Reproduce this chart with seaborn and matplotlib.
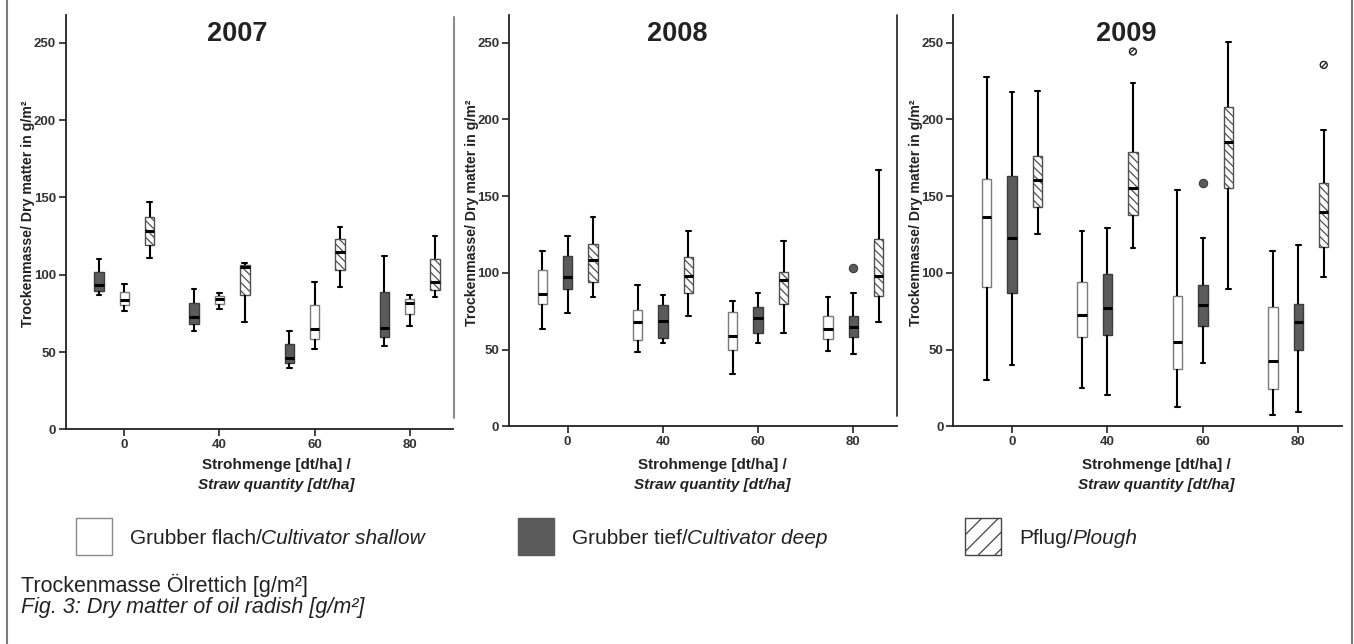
import numpy as np
import pandas as pd
import matplotlib
matplotlib.use("Agg")
import matplotlib.pyplot as plt
import seaborn as sns
from matplotlib import font_manager as fm
from matplotlib.patches import Rectangle
from matplotlib.lines import Line2D

# ---------------- data ----------------
years = ['2007', '2008', '2009']
straw = ['0', '40', '60', '80']
treatments = ['Grubber flach', 'Grubber tief', 'Pflug']

# five-number summaries per straw level: (lower whisker, Q1, median, Q3, upper whisker)
flach_2007 = [(76.7, 80.2, 83.6, 88.8, 93.8), (78.0, 81.2, 84.1, 86.2, 87.9),
              (51.9, 58.3, 65.0, 80.4, 95.3), (66.6, 74.3, 81.5, 84.5, 86.9)]
tief_2007 = [(86.6, 89.5, 93.1, 101.6, 110.2), (63.7, 68.1, 72.4, 81.7, 90.8),
             (39.8, 42.8, 46.0, 54.9, 63.7), (53.6, 59.4, 65.5, 88.8, 112.4)]
pflug_2007 = [(110.6, 119.3, 128.3, 137.4, 147.1), (69.1, 87.1, 105.0, 106.3, 107.8),
              (92.0, 103.3, 114.7, 122.9, 130.7), (85.4, 90.1, 95.1, 110.2, 124.9)]
flach_2008 = [(63.7, 79.7, 86.4, 101.6, 114.2), (48.3, 56.3, 68.0, 75.8, 92.3),
              (34.4, 49.4, 58.9, 74.5, 81.9), (49.2, 56.8, 63.3, 71.7, 84.5)]
tief_2008 = [(73.9, 89.5, 97.3, 110.9, 123.7), (54.6, 57.8, 68.7, 79.1, 85.6),
             (54.2, 60.9, 70.4, 77.8, 87.1), (47.2, 58.5, 65.0, 71.7, 87.1)]
pflug_2008 = [(84.5, 94.0, 108.5, 118.7, 136.7), (71.9, 86.9, 97.7, 110.3, 127.4),
              (61.1, 79.7, 95.1, 100.5, 120.7), (68.0, 84.7, 97.7, 122.0, 167.2)]
flach_2009 = [(30.1, 91.0, 136.5, 161.3, 227.5), (24.7, 58.0, 72.7, 93.9, 127.4),
              (12.3, 37.4, 54.7, 84.8, 154.2), (7.4, 24.0, 42.6, 77.6, 114.2)]
tief_2009 = [(40.2, 86.9, 122.4, 162.8, 218.0), (20.1, 59.5, 76.8, 99.0, 129.5),
             (41.3, 65.5, 78.9, 92.3, 122.4), (9.5, 50.0, 67.7, 79.4, 118.1)]
pflug_2009 = [(125.6, 143.2, 160.7, 175.8, 218.4), (115.9, 137.8, 155.1, 178.8, 223.6),
              (89.7, 155.5, 185.1, 208.0, 250.6), (97.1, 116.8, 139.7, 158.3, 193.3)]

# outliers
outlier_year = ['2008', '2009', '2009', '2009']
outlier_straw = ['80', '60', '40', '80']
outlier_treat = ['Grubber tief', 'Grubber tief', 'Pflug', 'Pflug']
outlier_value = [103.1, 158.5, 244.2, 235.5]

summaries = {
    ('2007', 'Grubber flach'): flach_2007, ('2007', 'Grubber tief'): tief_2007, ('2007', 'Pflug'): pflug_2007,
    ('2008', 'Grubber flach'): flach_2008, ('2008', 'Grubber tief'): tief_2008, ('2008', 'Pflug'): pflug_2008,
    ('2009', 'Grubber flach'): flach_2009, ('2009', 'Grubber tief'): tief_2009, ('2009', 'Pflug'): pflug_2009,
}

rows = []
for (yr, tr), boxes in summaries.items():
    for s, five in zip(straw, boxes):
        for v in five:
            rows.append({'year': yr, 'straw': s, 'treatment': tr, 'value': v})
df = pd.DataFrame(rows)
odf = pd.DataFrame({'year': outlier_year, 'straw': outlier_straw,
                    'treatment': outlier_treat, 'value': outlier_value})

# ---------------- style ----------------
sns.set_theme(style='ticks')
names = {f.name for f in fm.fontManager.ttflist}
narrow = 'Liberation Sans Narrow' if 'Liberation Sans Narrow' in names else 'Liberation Sans'
plt.rcParams['font.family'] = [narrow, 'DejaVu Sans']
plt.rcParams['hatch.linewidth'] = 0.9

palette = {'Grubber flach': '#ffffff', 'Grubber tief': '#5b5b5b', 'Pflug': '#ffffff'}
edges = {'Grubber flach': '#7a7a7a', 'Grubber tief': '#3c3c3c', 'Pflug': '#505050'}
hatches = {'Grubber flach': None, 'Grubber tief': None, 'Pflug': '\\\\\\\\'}

W, H = 1354, 644
fig = plt.figure(figsize=(W / 100, H / 100), dpi=100)
fig.patch.set_facecolor('white')

panel_px = {'2007': (65.7, 453.0, 15.0, 429.3),
            '2008': (509.0, 896.7, 15.0, 426.3),
            '2009': (953.3, 1341.7, 15.0, 426.3)}
title_x = {'2007': 0.444, '2008': 0.433, '2009': 0.445}
xlabel_cx = {'2007': 276, '2008': 712, '2009': 1156}

for yr in years:
    l, r, t, b = panel_px[yr]
    ax = fig.add_axes([l / W, 1 - b / H, (r - l) / W, (b - t) / H])
    hue_order = (['Grubber tief', 'Grubber flach', 'Pflug'] if yr == '2007'
                 else ['Grubber flach', 'Grubber tief', 'Pflug'])
    for tr in treatments:
        sub = df[(df.year == yr) & (df.treatment == tr)]
        n0 = len(ax.patches)
        sns.boxplot(data=sub, x='straw', y='value', hue='treatment', order=straw,
                    hue_order=hue_order, palette=palette, dodge=True, width=0.8,
                    gap=0.63, whis=(0, 100), saturation=1, showfliers=False,
                    linewidth=1.1, linecolor='black', legend=False, ax=ax,
                    medianprops=dict(color='black', linewidth=2.2),
                    whiskerprops=dict(color='black', linewidth=1.5),
                    capprops=dict(color='black', linewidth=1.5))
        for p in ax.patches[n0:]:
            p.set_edgecolor(edges[tr])
            p.set_linewidth(1.0)
            if hatches[tr]:
                p.set_hatch(hatches[tr])
        osub = odf[(odf.year == yr) & (odf.treatment == tr)]
        if len(osub):
            c0 = len(ax.collections)
            sns.stripplot(data=osub, x='straw', y='value', hue='treatment', order=straw,
                          hue_order=hue_order, palette=palette, dodge=True, jitter=False,
                          size=6 if tr == 'Grubber tief' else 5, legend=False, ax=ax)
            for c in ax.collections[c0:]:
                if tr == 'Grubber tief':
                    c.set_facecolor('#5b5b5b')
                    c.set_edgecolor('#3c3c3c')
                    c.set_linewidth(0.8)
                else:
                    c.set_facecolor('white')
                    c.set_edgecolor('#222222')
                    c.set_linewidth(1.0)
                    c.set_hatch('//////')
    ax.set_xlim(-0.616, 3.455)
    ax.set_ylim(0, 268)
    ax.set_yticks([0, 50, 100, 150, 200, 250])
    ax.set_xlabel('')
    ax.set_ylabel('Trockenmasse/ Dry matter in g/m²', fontsize=10.2, fontweight='bold',
                  color='#222222')
    ax.yaxis.set_label_coords(-0.078, 0.52)
    sns.despine(ax=ax)
    for sp in ['left', 'bottom']:
        ax.spines[sp].set_color('#222222')
        ax.spines[sp].set_linewidth(1.3)
    ax.tick_params(axis='both', length=5, width=1.2, color='#222222',
                   labelsize=9.5, labelcolor='#333333', pad=2)
    for lbl in ax.get_xticklabels() + ax.get_yticklabels():
        lbl.set_fontweight('bold')
    ax.text(title_x[yr], 0.953, yr, transform=ax.transAxes, ha='center', va='center',
            fontsize=19.5, fontweight='bold', color='#222222', family='Liberation Sans')
    fig.text(xlabel_cx[yr] / W, 1 - 465 / H, 'Strohmenge [dt/ha] /', ha='center',
             va='center', fontsize=11, fontweight='bold', color='#222222')
    fig.text(xlabel_cx[yr] / W, 1 - 485 / H, 'Straw quantity [dt/ha]', ha='center',
             va='center', fontsize=11, fontweight='bold', style='italic', color='#222222')

# separators and frame
def vline(xpx, y0px, y1px, color, lw):
    fig.add_artist(Line2D([xpx / W, xpx / W], [1 - y0px / H, 1 - y1px / H],
                          transform=fig.transFigure, color=color, linewidth=lw))

vline(454.3, 17, 418, '#8c8c8c', 1.5)
vline(896.7, 15, 416, '#333333', 1.3)
vline(7, 0, 644, '#7a7a7a', 1.5)
vline(1351.7, 0, 644, '#7a7a7a', 1.5)

# legend
leg_items = [(76, 'Grubber flach', 'white', None, '#8a8a8a', 129.5, 'Grubber flach/', 'Cultivator shallow'),
             (518, 'Grubber tief', '#5b5b5b', None, '#5b5b5b', 571.7, 'Grubber tief/', 'Cultivator deep'),
             (965, 'Pflug', 'white', '//', '#444444', 1019, 'Pflug/', 'Plough')]
for x0, _, fc, hatch, ec, tx, t1, t2 in leg_items:
    rect = Rectangle((x0 / W, 1 - 555 / H), 36 / W, 37 / H, transform=fig.transFigure,
                     facecolor=fc, edgecolor=ec, linewidth=1.0, hatch=hatch)
    fig.add_artist(rect)
    t = fig.text(tx / W, 1 - 538 / H, t1, ha='left', va='center', fontsize=15,
                 color='#222222')
    fig.canvas.draw()
    bb = t.get_window_extent()
    fig.text(bb.x1 / W, 1 - 538 / H, t2, ha='left', va='center', fontsize=15,
             style='italic', color='#222222')

fig.text(21 / W, 1 - 585 / H, 'Trockenmasse Ölrettich [g/m²]', ha='left', va='center',
         fontsize=15.5, color='#222222')
fig.text(21 / W, 1 - 608 / H, 'Fig. 3: Dry matter of oil radish [g/m²]', ha='left',
         va='center', fontsize=15.5, style='italic', color='#222222')

fig.savefig('out.png', dpi=100, facecolor='white')
